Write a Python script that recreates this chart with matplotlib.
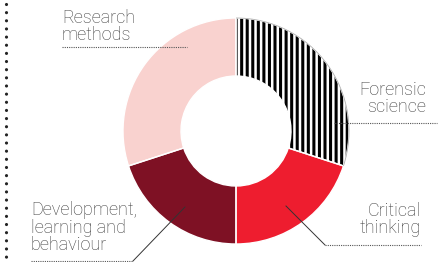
import matplotlib
matplotlib.use("Agg")
import matplotlib.pyplot as plt
from matplotlib.patches import Arc

categories = ["Forensic\nscience", "Critical\nthinking", "Development,\nlearning and\nbehaviour", "Research\nmethods"]
values = [30, 20, 20, 30]
colors = ["white", "#EE1D2F", "#7E1124", "#F9D2CF"]

W, H = 439, 262
plt.rcParams['hatch.linewidth'] = 2.2
fig = plt.figure(figsize=(W / 100, H / 100), dpi=100)
ax = fig.add_axes([0, 0, 1, 1])

def Y(y):
    return H - y

cx, cy, R, r = 236, 131, 113, 55
wedges, _ = ax.pie(values, colors=colors, startangle=90, counterclock=False,
                   center=(cx, Y(cy)), radius=R, frame=True,
                   wedgeprops=dict(width=R - r, linewidth=0))
wedges[0].set_hatch('|||')
wedges[0].set_edgecolor('black')
wedges[0].set_linewidth(0)
# thin separators
ax.pie(values, colors=['none'] * 4, startangle=90, counterclock=False,
       center=(cx, Y(cy)), radius=R, frame=True,
       wedgeprops=dict(width=R - r, linewidth=1.0, edgecolor='white', facecolor='none'))
# faint outline on the outer edge of the hatched slice
span = 360 * values[0] / sum(values)
ax.add_patch(Arc((cx, Y(cy)), 2 * R, 2 * R, theta1=90 - span, theta2=90,
                 color='#b0b0b0', linewidth=0.6))
ax.set_xlim(0, W)
ax.set_ylim(0, H)
ax.set_aspect('equal')
ax.axis('off')

tc = "#3a3a3a"
fam = ['Roboto', 'DejaVu Sans']
fs = 13
kw = dict(fontsize=fs, color=tc, family=fam, fontweight='light', linespacing=0.95)

# left dotted border
ax.plot([6, 6], [Y(4), Y(262)], color='#222222', linewidth=2.3,
        linestyle=(0, (0.001, 2.55)), dash_capstyle='round', solid_capstyle='round')

dot = dict(color='#555555', linewidth=0.8, linestyle=(0, (1, 1)))
solid = dict(color='#333333', linewidth=0.7)

# Research methods
ax.text(62, Y(40), categories[3], ha='left', va='baseline', **kw)
ax.plot([62, 187], [Y(47), Y(47)], **dot)

# Forensic science
ax.text(426, Y(112), categories[0], ha='right', va='baseline', **kw)
ax.plot([334, 437], [Y(123), Y(123)], **dot)

# Critical thinking
ax.text(421, Y(233), categories[1], ha='right', va='baseline', **kw)
ax.plot([286, 325], [Y(206), Y(245)], **solid)
ax.plot([325, 421], [Y(245), Y(245)], **dot)

# Development, learning and behaviour
ax.text(31, Y(250), categories[2], ha='left', va='baseline', **kw)
ax.plot([185, 133], [Y(207), Y(261)], **solid)
ax.plot([31, 133], [Y(261), Y(261)], **dot)

fig.savefig("out.png", dpi=100)
